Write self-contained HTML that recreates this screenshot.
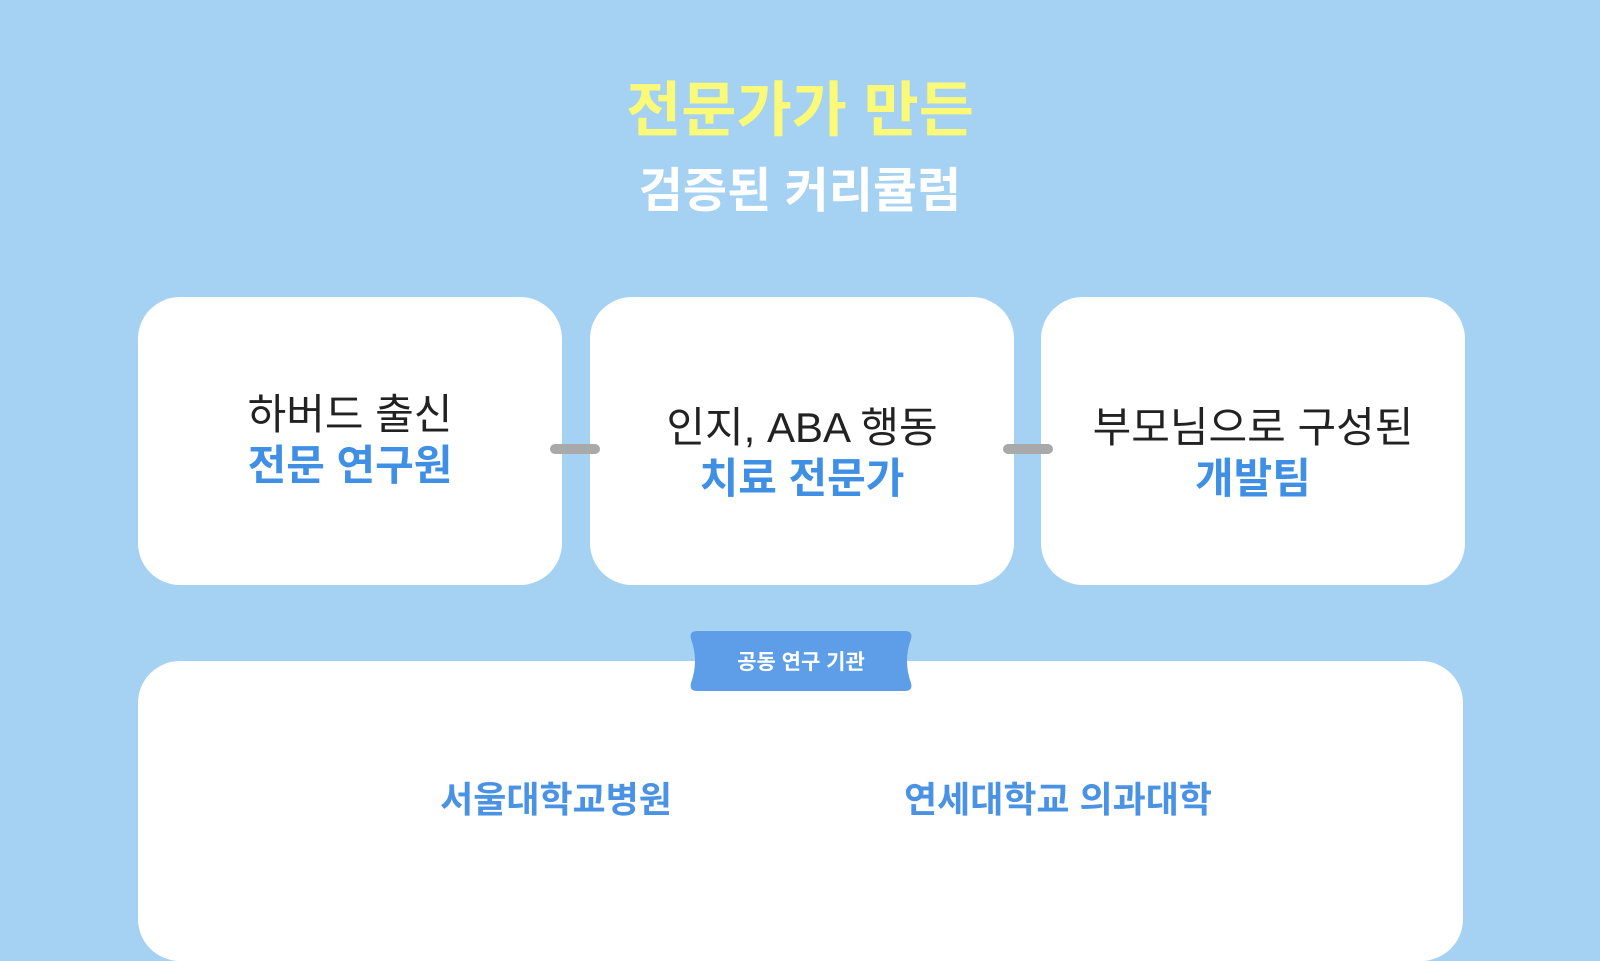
<!DOCTYPE html>
<html><head><meta charset="utf-8"><style>
body{margin:0;width:1600px;height:900px;background:#a5d2f3;position:relative;overflow:hidden;font-family:"Liberation Sans","Noto Sans CJK KR",sans-serif}
.t{position:absolute;left:0;width:1600px;text-align:center}
.box{position:absolute;top:297px;width:424px;height:288px;background:#fff;border-radius:42px;display:flex;flex-direction:column;align-items:center;justify-content:center;font-size:42px;line-height:51px;color:#222;box-sizing:border-box}
.b{color:#3f8fe4;font-weight:bold}
.con{position:absolute;top:444px;width:50px;height:10px;background:#a9a9a9;border-radius:5px}
.org{position:absolute;top:771px;font-size:36px;color:#4a92e3;font-weight:bold;transform:translateX(-50%);white-space:nowrap}
</style></head><body>
<div class="t" style="top:62px;font-size:60px;font-weight:bold;color:#fafa78">전문가가 만든</div>
<div class="t" style="top:151px;font-size:48px;color:#fff;font-weight:bold">검증된 커리큘럼</div>
<div class="box" style="left:138px;padding-bottom:2px"><div>하버드 출신</div><div class="b">전문 연구원</div></div>
<div class="box" style="left:590px;padding-top:24px"><div>인지, ABA 행동</div><div class="b">치료 전문가</div></div>
<div class="box" style="left:1041px;padding-top:24px"><div>부모님으로 구성된</div><div class="b">개발팀</div></div>
<div class="con" style="left:550px"></div>
<div class="con" style="left:1003px"></div>
<div style="position:absolute;left:138px;top:661px;width:1325px;height:300px;background:#fff;border-radius:42px"></div>
<svg style="position:absolute;left:689px;top:631px" width="224" height="60" viewBox="0 0 224 60">
<path d="M8 0 H216 Q224 0 222 8 Q214 30 222 52 Q224 60 216 60 H8 Q0 60 2 52 Q10 30 2 8 Q0 0 8 0 Z" fill="#5e9de7"/>
<text x="112" y="38" text-anchor="middle" fill="#fff" font-size="21" font-weight="bold" font-family="Liberation Sans, Noto Sans CJK KR, sans-serif">공동 연구 기관</text>
</svg>
<div class="org" style="left:556px">서울대학교병원</div>
<div class="org" style="left:1058px">연세대학교 의과대학</div>
</body></html>
